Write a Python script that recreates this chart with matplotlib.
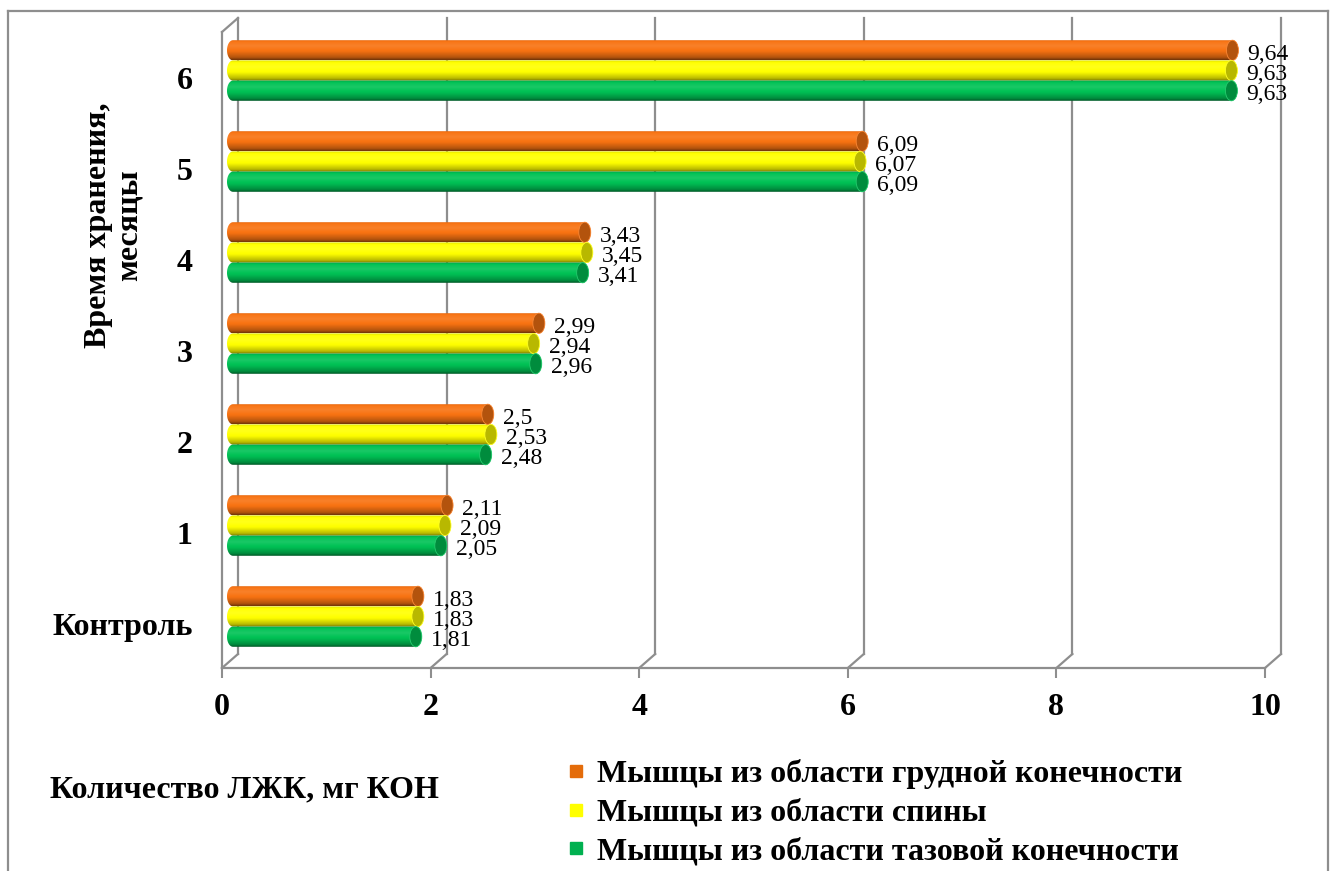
import numpy as np
import matplotlib
matplotlib.use("Agg")
import matplotlib.pyplot as plt
from matplotlib.path import Path
from matplotlib.patches import PathPatch, Ellipse
from matplotlib.lines import Line2D
from matplotlib.colors import to_rgb
from matplotlib.transforms import ScaledTranslation

# данные: количество ЛЖК по срокам хранения
categories = ["Контроль", "1", "2", "3", "4", "5", "6"]
chest = [1.83, 2.11, 2.5, 2.99, 3.43, 6.09, 9.64]
back = [1.83, 2.09, 2.53, 2.94, 3.45, 6.07, 9.63]
pelvic = [1.81, 2.05, 2.48, 2.96, 3.41, 6.09, 9.63]
series_names = ["Мышцы из области грудной конечности",
                "Мышцы из области спины",
                "Мышцы из области тазовой конечности"]
xticks = [0, 2, 4, 6, 8, 10]

plt.rcParams["font.family"] = ["Liberation Serif", "DejaVu Serif"]

W, H = 1335, 871
fig = plt.figure(figsize=(W / 100, H / 100), dpi=100)
fig.patch.set_facecolor("white")

GRID = "#8e8e8e"
colors = ["#f87312", "#ffff00", "#00c255"]
legend_colors = ["#e46c0a", "#ffff00", "#00b050"]

# передняя плоскость оси
x0, x1, ytop, ybot = 222, 1265, 32, 668
ax = fig.add_axes([x0 / W, 1 - ybot / H, (x1 - x0) / W, (ybot - ytop) / H])
ylo, yhi = -0.522, 6.467
ax.set_xlim(0, 10)
ax.set_ylim(ylo, yhi)
ux = 10 / (x1 - x0)              # единиц по x на пиксель
uy = (yhi - ylo) / (ybot - ytop)  # единиц по y на пиксель

for s in ("top", "right"):
    ax.spines[s].set_visible(False)
for s in ("left", "bottom"):
    ax.spines[s].set_color(GRID)
    ax.spines[s].set_linewidth(1.6)

# задняя стенка: вертикальная сетка и диагонали к полу
bdx, bdy = 16 * ux, 14 * uy
for xv in xticks:
    ax.plot([xv + bdx, xv + bdx], [ylo + bdy, yhi + bdy], color=GRID, lw=1.6,
            zorder=1, clip_on=False)
    ax.plot([xv, xv + bdx], [ylo, ylo + bdy], color=GRID, lw=1.6, zorder=1,
            clip_on=False)
ax.plot([0, bdx], [yhi, yhi + bdy], color=GRID, lw=1.6, zorder=1, clip_on=False)


def shade(rgb, f):
    rgb = np.array(rgb)
    if f <= 1:
        return rgb * f
    return rgb + (1 - rgb) * (f - 1)


def gradient(rgb, n=64):
    t = np.linspace(0, 1, n)
    stops_t = [0.0, 0.12, 0.4, 0.68, 0.88, 1.0]
    stops_f = [0.45, 0.72, 0.97, 1.1, 1.02, 0.86]
    f = np.interp(t, stops_t, stops_f)
    return np.array([shade(rgb, v) for v in f])[:, None, :]


def cylinder(xv, yc, h, rgb):
    cw = 6 * ux
    bx = 5 * ux
    yc = yc + 4 * uy
    x_l = bx + cw
    x_r = bx + xv
    ang1 = np.linspace(np.pi / 2, 3 * np.pi / 2, 30)
    ang2 = np.linspace(-np.pi / 2, np.pi / 2, 30)
    left = np.column_stack([x_l + cw * np.cos(ang1), yc + h / 2 * np.sin(ang1)])
    right = np.column_stack([x_r + cw * np.cos(ang2), yc + h / 2 * np.sin(ang2)])
    verts = np.vstack([left, right, left[:1]])
    codes = [Path.MOVETO] + [Path.LINETO] * (len(verts) - 2) + [Path.CLOSEPOLY]
    clip = PathPatch(Path(verts, codes), transform=ax.transData)
    im = ax.imshow(gradient(rgb), extent=[bx, x_r + cw, yc - h / 2, yc + h / 2],
                   origin="lower", aspect="auto", interpolation="bilinear",
                   zorder=3)
    im.set_clip_path(clip)
    cap = Ellipse((x_r, yc), 2 * cw, h, facecolor=shade(rgb, 0.72),
                  edgecolor=shade(rgb, 1.15), lw=0.6, zorder=4)
    ax.add_patch(cap)


bar_h = 0.222
ypos = np.arange(len(categories))
offsets = [bar_h, 0.0, -bar_h]
for vals, off, col in zip([chest, back, pelvic], offsets, colors):
    rgb = to_rgb(col)
    for y, v in zip(ypos, vals):
        cylinder(v, y + off, bar_h, rgb)
        ax.annotate(f"{v:g}".replace(".", ","), (v, y + off),
                    xytext=(20, 0), textcoords="offset pixels",
                    va="center", ha="left", fontsize=17, color="black",
                    zorder=5, annotation_clip=False)

ax.set_xticks(xticks)
ax.set_xticklabels([str(v) for v in xticks], fontsize=23, fontweight="bold")
ax.tick_params(axis="x", length=7.2, width=1.5, color=GRID, pad=11)
ax.set_yticks(ypos)
ax.set_yticklabels(categories, fontsize=23, fontweight="bold",
                   va="center_baseline")
ax.tick_params(axis="y", length=0, pad=21)
shift = ScaledTranslation(0, -4 / 100, fig.dpi_scale_trans)
for lbl in ax.get_yticklabels():
    lbl.set_transform(lbl.get_transform() + shift)
ax.set_facecolor("none")

fig.text(114 / W, 1 - 225 / H, "Время хранения,\nмесяцы", rotation=90,
         ha="center", va="center", multialignment="center",
         fontsize=23, fontweight="bold", linespacing=1.1)
fig.text(50 / W, 1 - 790 / H, "Количество ЛЖК, мг КОН", ha="left",
         va="center", fontsize=23, fontweight="bold")

handles = [Line2D([], [], marker="s", ls="none", markersize=9,
                  markerfacecolor=c, markeredgecolor=c) for c in legend_colors]
fig.legend(handles, series_names, loc="upper left",
           bbox_to_anchor=(552 / W, 1 - 746 / H), frameon=False,
           prop={"size": 23, "weight": "bold"}, handlelength=0.7,
           handletextpad=0.3, labelspacing=0.3, borderaxespad=0)

# рамка области диаграммы
frame = dict(color=GRID, lw=1.6, transform=fig.transFigure)
fig.add_artist(Line2D([8 / W, 8 / W], [0, 1 - 11 / H], **frame))
fig.add_artist(Line2D([8 / W, 1328 / W], [1 - 11 / H, 1 - 11 / H], **frame))
fig.add_artist(Line2D([1328 / W, 1328 / W], [0, 1 - 11 / H], **frame))

fig.savefig("out.png", dpi=100, facecolor="white")
